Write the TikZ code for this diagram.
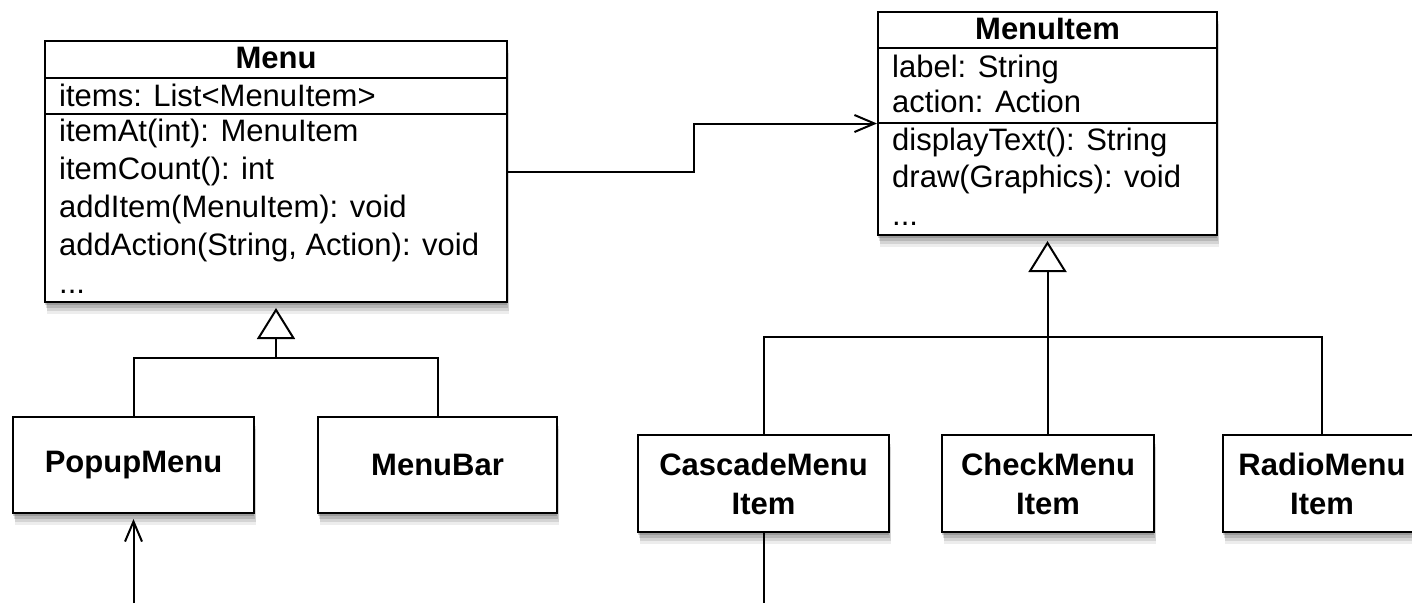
\documentclass[tikz,border=0pt]{standalone}
\usepackage{fontspec}
\setmainfont{Liberation Sans}
\usetikzlibrary{arrows.meta,shadows}
\begin{document}
\begin{tikzpicture}[x=1pt,y=-1pt,
  softshadow/.style={
    general shadow={fill=black,opacity=.16,shadow yshift=-3pt},
    general shadow={fill=black,opacity=.13,shadow yshift=-6pt,shadow xshift=1pt},
    general shadow={fill=black,opacity=.10,shadow yshift=-9pt,shadow xshift=2pt},
    general shadow={fill=black,opacity=.07,shadow yshift=-12pt,shadow xshift=2pt}},
  classbox/.style={draw, line width=2pt, fill=white, softshadow, inner sep=0pt},
  lbl/.style={inner sep=0pt, anchor=base west, font=\fontsize{31}{38}\selectfont},
  ttl/.style={inner sep=0pt, anchor=base, font=\fontsize{31}{38}\selectfont\bfseries},
  sub/.style={classbox, font=\fontsize{31}{39}\selectfont\bfseries, align=center},
  conn/.style={line width=2pt},
  gen/.style={conn, -{Triangle[open,length=31pt,width=38pt]}, shorten >=5pt},
  assoc/.style={conn, -{Straight Barb[length=20pt,width=17pt]}}]
\useasboundingbox (0,0) rectangle (1412,603);
\fill[white] (0,0) rectangle (1412,603);

% Menu class
\node[classbox, minimum width=462pt, minimum height=261pt] (menu) at (276,171.5) {};
\draw[conn] (menu.west |- 0,78) -- (menu.east |- 0,78);
\draw[conn] (menu.west |- 0,114) -- (menu.east |- 0,114);
\node[ttl] (menuT) at (276,68) {Menu};
\node[lbl] (menuA1) at (59,106) {items: List<MenuItem>};
\node[lbl] (menuM1) at (59,141) {itemAt(int): MenuItem};
\node[lbl] (menuM2) at (59,179) {itemCount(): int};
\node[lbl] (menuM3) at (59,217) {addItem(MenuItem): void};
\node[lbl] (menuM4) at (59,255) {addAction(String, Action): void};
\node[lbl] (menuM5) at (59,293) {...};

% MenuItem class
\node[classbox, minimum width=339pt, minimum height=223pt] (mitem) at (1047.5,123.5) {};
\draw[conn] (mitem.west |- 0,48) -- (mitem.east |- 0,48);
\draw[conn] (mitem.west |- 0,123) -- (mitem.east |- 0,123);
\node[ttl] (mitemT) at (1047.5,39.5) {MenuItem};
\node[lbl] (mitemA1) at (892,77) {label: String};
\node[lbl] (mitemA2) at (892,112) {action: Action};
\node[lbl] (mitemM1) at (892,150) {displayText(): String};
\node[lbl] (mitemM2) at (892,187) {draw(Graphics): void};
\node[lbl] (mitemM3) at (892,225) {...};

% subclasses
\node[sub, minimum width=241pt, minimum height=96pt] (popup) at (133.5,465) {PopupMenu};
\node[sub, minimum width=239pt, minimum height=96pt] (menubar) at (437.5,465) {MenuBar};
\node[sub, minimum width=251pt, minimum height=97pt] (cascade) at (763.5,483.5) {CascadeMenu\\Item};
\node[sub, minimum width=212pt, minimum height=97pt] (check) at (1048,483.5) {CheckMenu\\Item};
\node[sub, minimum width=198pt, minimum height=97pt] (radio) at (1322,483.5) {RadioMenu\\Item};

% generalisation Menu
\coordinate (mj) at (menu.south |- 0,358);
\draw[conn] (popup.north) |- (mj) -| (menubar.north);
\draw[gen] (mj) -- (menu.south);

% generalisation MenuItem
\coordinate (ij) at (mitem.south |- 0,337);
\draw[conn] (cascade.north) |- (ij) -| (radio.north);
\draw[conn] (check.north) -- (check.north |- ij);
\draw[gen] (ij) -- (mitem.south);

% association Menu -> MenuItem
\draw[assoc] (menu.east) -- ++(186,0) |- (mitem.west);

% incoming / outgoing lines at the bottom
\coordinate (pstart) at (popup.south |- 0,603);
\draw[assoc, shorten >=5pt] (pstart) -- (popup.south);
\coordinate (cend) at (cascade.south |- 0,603);
\draw[conn] (cascade.south) -- (cend);
\end{tikzpicture}
\end{document}
